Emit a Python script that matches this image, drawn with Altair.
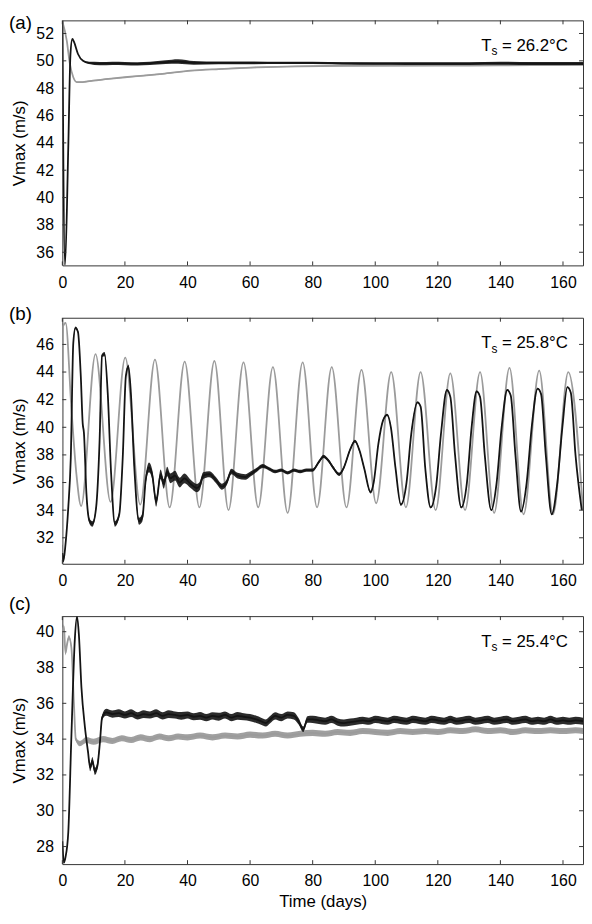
import altair as alt
import pandas as pd

# ---------------- data ----------------
PANEL_LABELS = ["(a)", "(b)", "(c)"]
TS_VALUES = ["26.2", "25.8", "25.4"]
X_TICKS = [0, 20, 40, 60, 80, 100, 120, 140, 160]
Y_TICKS_A = [36, 38, 40, 42, 44, 46, 48, 50, 52]
Y_TICKS_B = [32, 34, 36, 38, 40, 42, 44, 46]
Y_TICKS_C = [28, 30, 32, 34, 36, 38, 40]

# panel (a)  (t, value, half-width of the noise band)
A_BLACK = [(0, 52.95, 0), (0.85, 35.06, 0), (1.9, 43.7, 0), (2.6, 50.5, 0), (3.2, 51.6, 0),
           (3.7, 51.4, 0), (5.0, 50.5, 0), (6.6, 50.0, 0), (8.5, 49.85, 0.08),
           (12, 49.8, 0.12), (16, 49.82, 0.12), (20, 49.8, 0.12), (24, 49.78, 0.12),
           (28, 49.82, 0.12), (33, 49.9, 0.14), (37, 49.95, 0.17), (42, 49.85, 0.14),
           (50, 49.85, 0.1), (60, 49.85, 0.1), (70, 49.85, 0.08), (80, 49.85, 0.08),
           (90, 49.82, 0.08), (100, 49.8, 0.09), (110, 49.8, 0.1), (120, 49.8, 0.1),
           (130, 49.8, 0.1), (140, 49.82, 0.11), (150, 49.8, 0.11), (160, 49.8, 0.11),
           (166.4, 49.8, 0.11)]
A_GRAY = [(0, 52.9, 0), (1.4, 51.5, 0), (2.4, 49.8, 0), (3.5, 48.8, 0), (4.6, 48.45, 0.03),
          (6.6, 48.45, 0.04), (9.8, 48.55, 0.04), (15.6, 48.7, 0.04), (20, 48.8, 0.04),
          (25, 48.9, 0.04), (32, 49.05, 0.04), (41, 49.28, 0.04), (50, 49.4, 0.04),
          (62, 49.52, 0.04), (75, 49.6, 0.04), (90, 49.64, 0.04), (110, 49.65, 0.04),
          (130, 49.66, 0.04), (150, 49.68, 0.04), (166.4, 49.7, 0.04)]

# panel (b)
B_GRAY = [(0, 31.5, 0), (0.2, 47.3, 0), (1.05, 47.55, 0), (2.9, 41.35, 0), (4.5, 36.6, 0),
          (6.0, 34.3, 0), (10.6, 45.3, 0), (15.4, 34.6, 0), (20.1, 45.05, 0),
          (24.9, 34.4, 0), (29.6, 44.9, 0), (34.3, 34.2, 0), (39.1, 44.75, 0),
          (43.8, 34.2, 0), (48.6, 44.8, 0), (53.1, 34.0, 0), (57.9, 44.7, 0),
          (62.6, 34.2, 0), (67.3, 44.35, 0), (72.0, 33.8, 0), (76.8, 44.7, 0),
          (81.4, 34.2, 0), (86.1, 44.35, 0), (90.8, 34.2, 0), (95.6, 44.15, 0),
          (100.3, 34.5, 0), (105.1, 44.0, 0), (109.8, 34.2, 0), (114.5, 44.0, 0),
          (119.3, 34.0, 0), (124.0, 43.9, 0), (128.7, 34.0, 0), (133.5, 44.0, 0),
          (138.0, 33.8, 0), (142.9, 44.3, 0), (147.4, 33.7, 0), (152.4, 44.1, 0),
          (156.8, 33.7, 0), (161.7, 44.0, 0), (166.4, 34.0, 0)]
B_BLACK = [(0, 30.9, 0.05), (0.3, 30.3, 0.05), (1.0, 31.5, 0.05), (1.9, 34.2, 0.05),
           (2.7, 37.8, 0.05), (3.5, 46.1, 0.08), (4.2, 47.2, 0.1), (5.0, 46.9, 0.1),
           (5.9, 43.7, 0.1), (6.5, 40.3, 0.12), (6.9, 39.6, 0.15), (7.7, 35.2, 0.15),
           (8.7, 33.2, 0.2), (9.6, 33.0, 0.2), (10.8, 34.2, 0.15), (11.9, 39.0, 0.1),
           (12.7, 45.2, 0.12), (13.5, 45.3, 0.15), (14.5, 42.5, 0.12), (15.6, 36.6, 0.1),
           (16.8, 33.0, 0.2), (18.2, 33.7, 0.2), (19.3, 37.8, 0.12), (20.3, 43.7, 0.12),
           (21.1, 44.4, 0.15), (21.9, 42.5, 0.15), (23.0, 37.1, 0.15), (24.5, 33.2, 0.25),
           (25.6, 33.5, 0.3), (26.6, 36.1, 0.3), (27.7, 37.1, 0.35), (28.7, 36.6, 0.35),
           (30.0, 34.6, 0.35), (31.4, 36.6, 0.35), (32.4, 35.9, 0.35), (33.5, 36.8, 0.35),
           (34.5, 36.3, 0.35), (36.0, 36.5, 0.35), (37.5, 36.0, 0.35), (39.0, 36.3, 0.35),
           (41.0, 35.9, 0.3), (43.0, 35.6, 0.3), (44.0, 35.8, 0.3), (45.0, 36.5, 0.25),
           (47.0, 36.6, 0.22), (49.0, 36.2, 0.22), (51.0, 35.7, 0.22), (52.5, 36.0, 0.22),
           (54.0, 36.8, 0.2), (56.0, 36.5, 0.2), (58.5, 36.4, 0.2), (60.0, 36.6, 0.18),
           (62.0, 36.9, 0.15), (64.0, 37.2, 0.15), (66.0, 37.0, 0.12), (68.0, 36.8, 0.12),
           (70.0, 36.9, 0.12), (72.0, 36.7, 0.12), (74.0, 36.9, 0.12), (76.0, 36.8, 0.12),
           (78.0, 36.9, 0.12), (80.0, 36.9, 0.12), (82.0, 37.5, 0.12), (83.5, 37.9, 0.12),
           (85.0, 37.6, 0.12), (86.5, 37.1, 0.12), (88.5, 36.6, 0.12), (90.0, 37.1, 0.12),
           (92.0, 38.4, 0.1), (93.5, 39.0, 0.1), (95.0, 38.3, 0.1), (96.5, 37.0, 0.1),
           (98.5, 35.3, 0.1), (99.5, 36.0, 0.1), (101.0, 38.8, 0.08), (102.5, 40.5, 0.08),
           (103.8, 40.9, 0.08), (105.0, 40.0, 0.08), (106.5, 37.0, 0.08), (108.2, 34.4, 0.08),
           (110.0, 36.0, 0.06), (111.5, 39.5, 0.06), (113.5, 41.8, 0.06), (114.5, 41.5, 0.06),
           (116.0, 37.0, 0.06), (117.7, 34.2, 0.06), (119.5, 35.8, 0.06), (121.0, 39.5, 0.06),
           (122.9, 42.7, 0.06), (124.0, 42.2, 0.06), (125.5, 38.0, 0.06), (127.5, 34.2, 0.06),
           (129.3, 36.0, 0.06), (130.8, 40.0, 0.06), (132.4, 42.6, 0.06), (133.5, 42.2, 0.06),
           (135.0, 38.0, 0.06), (137.1, 34.0, 0.06), (138.8, 36.0, 0.06), (140.4, 40.0, 0.06),
           (142.2, 42.7, 0.06), (143.3, 42.3, 0.06), (144.8, 38.0, 0.06), (146.6, 33.9, 0.06),
           (148.4, 36.0, 0.06), (150.0, 40.0, 0.06), (151.9, 42.8, 0.06), (153.0, 42.4, 0.06),
           (154.5, 38.0, 0.06), (156.4, 33.7, 0.06), (158.2, 36.0, 0.06), (159.8, 40.0, 0.06),
           (161.4, 42.9, 0.06), (162.5, 42.5, 0.06), (164.0, 38.0, 0.06), (166.0, 34.0, 0.06)]

# panel (c)
C_GRAY = [(0, 40.0, 0.12), (0.5, 40.3, 0.12), (1.0, 38.8, 0.12), (1.5, 39.3, 0.12),
          (2.1, 39.7, 0.12), (2.9, 39.1, 0.1), (3.7, 36.0, 0.05), (4.3, 34.0, 0.1),
          (5.6, 33.75, 0.15), (7.7, 33.95, 0.17), (10, 33.85, 0.17), (13, 34.0, 0.17),
          (16, 33.9, 0.17), (19, 34.05, 0.17), (22, 33.95, 0.17), (25, 34.1, 0.17),
          (28, 34.0, 0.17), (31, 34.15, 0.17), (34, 34.05, 0.17), (37, 34.15, 0.17),
          (40, 34.1, 0.17), (44, 34.2, 0.17), (48, 34.1, 0.17), (52, 34.2, 0.17),
          (56, 34.15, 0.17), (60, 34.25, 0.17), (64, 34.2, 0.17), (68, 34.3, 0.17),
          (72, 34.2, 0.17), (76, 34.3, 0.17), (80, 34.35, 0.17), (84, 34.3, 0.17),
          (88, 34.4, 0.17), (92, 34.35, 0.17), (96, 34.45, 0.17), (100, 34.4, 0.17),
          (104, 34.35, 0.17), (108, 34.45, 0.17), (112, 34.4, 0.17), (116, 34.45, 0.17),
          (120, 34.4, 0.17), (124, 34.5, 0.17), (128, 34.45, 0.17), (132, 34.55, 0.17),
          (136, 34.45, 0.17), (140, 34.5, 0.17), (144, 34.4, 0.17), (148, 34.5, 0.17),
          (152, 34.45, 0.17), (156, 34.5, 0.17), (160, 34.45, 0.17), (164, 34.5, 0.17),
          (166.4, 34.45, 0.17)]
C_BLACK = [(0, 28.3, 0.03), (0.5, 27.1, 0.03), (1.0, 27.4, 0.03), (1.9, 28.8, 0.03),
           (2.9, 34.2, 0.03), (4.0, 39.6, 0.03), (4.7, 40.85, 0), (5.3, 39.8, 0.03),
           (6.1, 36.9, 0.05), (7.2, 34.7, 0.05), (8.2, 33.3, 0.1), (8.9, 32.4, 0.2),
           (9.6, 32.8, 0.2), (10.4, 32.2, 0.2), (11.2, 32.5, 0.2), (12.0, 33.8, 0.15),
           (12.7, 35.2, 0.15), (14, 35.5, 0.2), (16, 35.4, 0.2), (18, 35.45, 0.22),
           (20, 35.35, 0.2), (22, 35.45, 0.22), (24, 35.3, 0.2), (26, 35.4, 0.22),
           (28, 35.35, 0.2), (30, 35.45, 0.22), (32, 35.3, 0.2), (34, 35.4, 0.22),
           (36, 35.35, 0.2), (38, 35.3, 0.22), (40, 35.35, 0.2), (42, 35.25, 0.2),
           (44, 35.3, 0.22), (46, 35.2, 0.2), (48, 35.3, 0.2), (50, 35.25, 0.22),
           (52, 35.35, 0.2), (54, 35.2, 0.2), (56, 35.3, 0.22), (58, 35.25, 0.2),
           (60, 35.2, 0.2), (62, 35.1, 0.2), (63.5, 35.0, 0.2), (65, 34.9, 0.2),
           (66.5, 35.1, 0.2), (68, 35.3, 0.2), (70, 35.2, 0.2), (72, 35.35, 0.2),
           (74, 35.3, 0.2), (75.5, 35.0, 0.18), (77, 34.55, 0.15), (78.3, 35.1, 0.18),
           (80, 35.1, 0.2), (82, 35.05, 0.2), (84, 35.0, 0.2), (86, 35.1, 0.2),
           (88, 34.95, 0.2), (90, 34.9, 0.2), (92, 34.95, 0.2), (94, 35.0, 0.2),
           (96, 35.05, 0.2), (98, 35.0, 0.2), (100, 35.1, 0.2), (102, 35.05, 0.2),
           (104, 35.0, 0.2), (106, 35.1, 0.2), (108, 35.05, 0.2), (110, 35.0, 0.2),
           (112, 35.1, 0.2), (114, 35.05, 0.2), (116, 35.0, 0.2), (118, 35.1, 0.2),
           (120, 35.05, 0.2), (122, 35.0, 0.2), (124, 35.1, 0.2), (126, 35.0, 0.2),
           (128, 35.05, 0.2), (130, 35.1, 0.2), (132, 35.0, 0.2), (134, 35.05, 0.2),
           (136, 35.1, 0.2), (138, 35.0, 0.2), (140, 35.05, 0.2), (142, 35.1, 0.2),
           (144, 35.0, 0.2), (146, 35.05, 0.2), (148, 35.1, 0.2), (150, 35.0, 0.2),
           (152, 35.05, 0.2), (154, 35.0, 0.2), (156, 35.1, 0.2), (158, 35.0, 0.2),
           (160, 35.05, 0.2), (162, 35.0, 0.2), (164, 35.05, 0.2), (166.4, 35.0, 0.2)]

# ---------------- styling ----------------
FONT = "Liberation Sans"
BLACK = "#141414"
GRAY = "#9b9b9b"
FRAME = "#333333"
W = 527
LEFT = 54          # room left of the plot for labels, title and panel letter
X_DOMAIN = [0, 166.4]


def series_frame(rows):
    return pd.DataFrame({
        "t": [r[0] for r in rows],
        "v": [r[1] for r in rows],
        "lo": [r[1] - r[2] for r in rows],
        "hi": [r[1] + r[2] for r in rows],
    })


def panel(idx, black, gray, ydom, yticks, height, last):
    xs = alt.Scale(domain=X_DOMAIN, nice=False, zero=False)
    ys = alt.Scale(domain=ydom, nice=False, zero=False)
    xaxis = alt.Axis(values=X_TICKS, format="d", ticks=False, tickSize=0, domain=False,
                     grid=False, labelFlush=False, labelFont=FONT, labelFontSize=16,
                     labelColor="#000", labelPadding=9,
                     title=("Time (days)" if last else None),
                     titleFont=FONT, titleFontSize=17, titleFontWeight="normal",
                     titleColor="#000", titlePadding=5)
    yaxis = alt.Axis(values=yticks, format="d", ticks=False, tickSize=0, domain=False,
                     grid=False, labelFlush=False, labelFont=FONT, labelFontSize=16,
                     labelColor="#000", labelPadding=9, title="Vmax (m/s)", titleFont=FONT,
                     titleFontSize=17, titleFontWeight="normal", titleColor="#000",
                     titlePadding=7)
    X = alt.X("t:Q", scale=xs, axis=xaxis)

    layers = []
    for df, col, op in [(gray, GRAY, 0.95), (black, BLACK, 0.9)]:
        layers.append(
            alt.Chart(df).mark_area(color=col, opacity=op, interpolate="monotone", clip=True)
            .encode(x=X, y=alt.Y("lo:Q", scale=ys, axis=yaxis), y2="hi:Q"))
        layers.append(
            alt.Chart(df).mark_line(color=col, strokeWidth=1.8, interpolate="monotone",
                                    clip=True)
            .encode(x=X, y=alt.Y("v:Q", scale=ys, axis=yaxis)))

    xt = pd.DataFrame({"tick": X_TICKS})
    yt = pd.DataFrame({"tick": yticks})
    XT = alt.X("tick:Q", scale=xs, axis=xaxis)
    YT = alt.Y("tick:Q", scale=ys, axis=yaxis)
    layers += [
        alt.Chart(xt).mark_rule(color=FRAME, strokeWidth=1)
        .encode(x=XT, y=alt.value(0), y2=alt.value(4)),
        alt.Chart(xt).mark_rule(color=FRAME, strokeWidth=1)
        .encode(x=XT, y=alt.value(height), y2=alt.value(height - 4)),
        alt.Chart(yt).mark_rule(color=FRAME, strokeWidth=1)
        .encode(y=YT, x=alt.value(0), x2=alt.value(4)),
        alt.Chart(yt).mark_rule(color=FRAME, strokeWidth=1)
        .encode(y=YT, x=alt.value(W - 4), x2=alt.value(W)),
    ]

    # annotation  T_s = xx.x°C
    ts = pd.DataFrame({"s": ["= " + TS_VALUES[idx] + "°C"], "T": ["T"], "sub": ["s"]})
    layers += [
        alt.Chart(ts).mark_text(align="left", baseline="alphabetic", font=FONT, fontSize=17,
                                color="#000")
        .encode(x=alt.value(W - 103), y=alt.value(31), text="T:N"),
        alt.Chart(ts).mark_text(align="left", baseline="alphabetic", font=FONT, fontSize=12,
                                color="#000")
        .encode(x=alt.value(W - 92.5), y=alt.value(35.5), text="sub:N"),
        alt.Chart(ts).mark_text(align="left", baseline="alphabetic", font=FONT, fontSize=17,
                                color="#000")
        .encode(x=alt.value(W - 82), y=alt.value(31), text="s:N"),
    ]

    # panel letter
    lab = pd.DataFrame({"lab": [PANEL_LABELS[idx]]})
    ly = [-6, -4, -12][idx]
    lb = ["top", "middle", "middle"][idx]
    layers.append(
        alt.Chart(lab).mark_text(align="left", baseline=lb, font=FONT, fontSize=19,
                                 color="#000")
        .encode(x=alt.value(-LEFT), y=alt.value(ly), text="lab:N"))

    return alt.layer(*layers).properties(width=W, height=height)


pa = panel(0, series_frame(A_BLACK), series_frame(A_GRAY), [35.04, 52.96], Y_TICKS_A, 248,
           False)
pb = panel(1, series_frame(B_BLACK), series_frame(B_GRAY), [30.12, 47.93], Y_TICKS_B, 249,
           False)
pc = panel(2, series_frame(C_BLACK), series_frame(C_GRAY), [27.02, 40.87], Y_TICKS_C, 251,
           True)

chart = (
    alt.vconcat(pa, pb, pc, spacing=53, bounds="flush")
    .properties(padding=0, background="white")
    .configure(padding=0, view=alt.ViewConfig(stroke=FRAME, strokeWidth=1))
)

chart.save("out.html", embed_options={"renderer": "svg", "actions": False})
